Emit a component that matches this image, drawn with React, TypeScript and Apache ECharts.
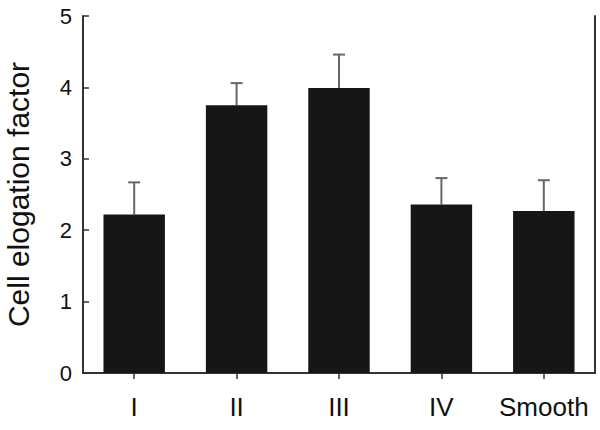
import React, { useEffect, useRef } from "react";
import * as echarts from "echarts";

const categories = ["I", "II", "III", "IV", "Smooth"];
const means = [2.22, 3.75, 3.99, 2.36, 2.27];
const errorTops = [2.67, 4.06, 4.46, 2.73, 2.7];
const yTicks = [0, 1, 2, 3, 4, 5];

export default function App() {
  const ref = useRef<HTMLDivElement>(null);
  useEffect(() => {
    if (!ref.current) return;
    const chart = echarts.init(ref.current, null, { renderer: "svg" });
    const font = "Liberation Sans, Arial, sans-serif";
    chart.setOption({
      animation: false,
      backgroundColor: "#ffffff",
      grid: { left: 83, right: 5, top: 16, bottom: 57, containLabel: false, outerBoundsMode: "none" },
      xAxis: {
        type: "category",
        data: categories,
        boundaryGap: true,
        axisLine: { show: true, lineStyle: { color: "#333", width: 2 } },
        axisTick: { show: true, alignWithLabel: true, length: 6, lineStyle: { color: "#333", width: 1.5 } },
        axisLabel: { color: "#111", fontSize: 26, fontFamily: font, margin: 21, interval: 0 },
      },
      yAxis: [
        {
          type: "value",
          min: 0,
          max: 5,
          interval: 1,
          name: "Cell elogation factor",
          nameLocation: "middle",
          nameGap: 50,
          nameTextStyle: { color: "#111", fontSize: 30, fontFamily: font },
          axisLine: { show: true, lineStyle: { color: "#333", width: 2 } },
          axisTick: { show: true, inside: true, length: 6, lineStyle: { color: "#333", width: 1.5 } },
          axisLabel: {
            color: "#111",
            fontSize: 22,
            fontFamily: font,
            margin: 11,
            formatter: (v: number) => (yTicks.includes(v) ? String(v) : ""),
          },
          splitLine: { show: false },
        },
        {
          type: "value",
          min: 0,
          max: 5,
          interval: 1,
          position: "right",
          axisLine: { show: true, lineStyle: { color: "#333", width: 2 } },
          axisTick: { show: false },
          axisLabel: { show: false },
          splitLine: { show: false },
        },
      ],
      series: [
        {
          type: "bar",
          data: means,
          barWidth: "60%",
          itemStyle: { color: "#161616" },
          z: 2,
        },
        {
          type: "custom",
          z: 1,
          data: categories.map((_, i) => [i, means[i], errorTops[i]]),
          renderItem: (params: any, api: any) => {
            const x = api.value(0);
            const base = api.coord([x, api.value(1)]);
            const top = api.coord([x, api.value(2)]);
            const half = 6;
            const style = { stroke: "#666", lineWidth: 2 };
            return {
              type: "group",
              children: [
                { type: "line", shape: { x1: base[0], y1: base[1], x2: top[0], y2: top[1] }, style },
                { type: "line", shape: { x1: top[0] - half, y1: top[1], x2: top[0] + half, y2: top[1] }, style },
              ],
            };
          },
        },
      ],
    });
    return () => chart.dispose();
  }, []);
  return <div ref={ref} style={{ width: 600, height: 430, position: "absolute", left: 0, top: 0 }} />;
}
